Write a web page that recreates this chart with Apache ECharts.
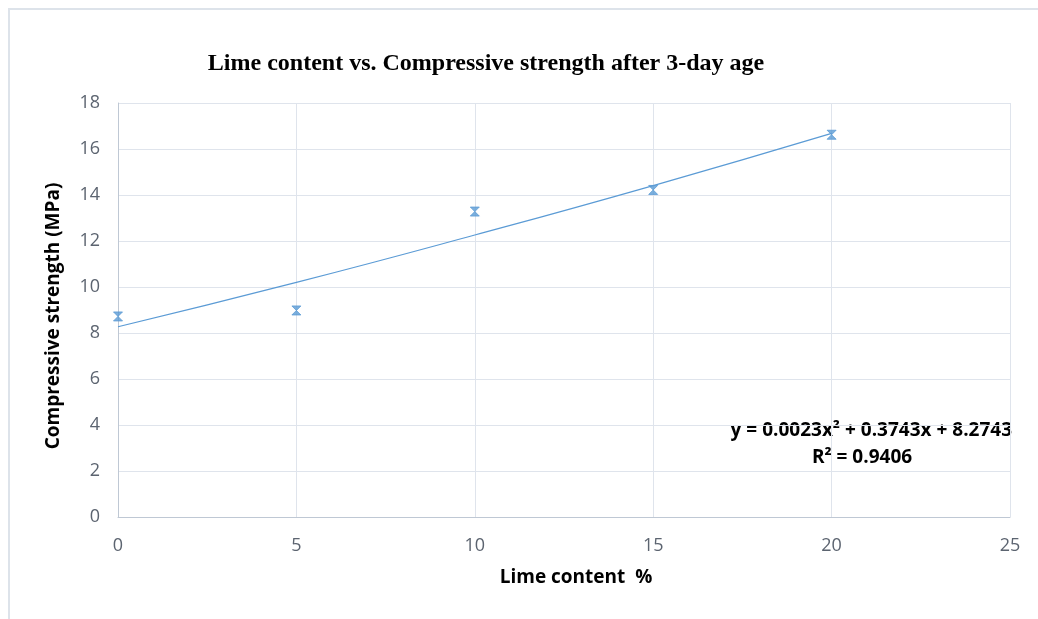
<!DOCTYPE html>
<html>
<head>
<meta charset="utf-8">
<script src="https://cdn.jsdelivr.net/npm/echarts@6/dist/echarts.min.js"></script>
<style>
html,body{margin:0;padding:0;background:#fff;}
#frame{position:absolute;left:8px;top:8px;width:1030px;height:611px;border-left:2px solid #dde3ea;border-top:2px solid #dde3ea;box-sizing:border-box;}
#chart{position:absolute;left:0;top:0;width:1038px;height:619px;}
</style>
</head>
<body>
<div id="frame"></div>
<div id="chart"></div>
<script>
const limeContent = [0, 5, 10, 15, 20];
const strength = [8.72, 8.98, 13.28, 14.22, 16.62];
// trendline
const trendX = [0, 5, 10, 15, 20];
const trendY = [8.27, 10.20, 12.26, 14.41, 16.68];
const xTicks = [0, 5, 10, 15, 20, 25];
const yTicks = [0, 2, 4, 6, 8, 10, 12, 14, 16, 18];
const equationText = 'y = 0.0023x² + 0.3743x + 8.2743';
const r2Text = 'R² = 0.9406';

const chart = echarts.init(document.getElementById('chart'));
const blue = '#5b9bd5';
chart.setOption({
  animation: false,
  title: {
    text: 'Lime content vs. Compressive strength after 3-day age',
    left: 481, top: 47, textAlign: 'center',
    textStyle: {fontFamily: 'Liberation Serif', fontWeight: 'bold', fontSize: 24, color: '#000'}
  },
  grid: {left: 118, right: 28, top: 103, bottom: 102, containLabel: false},
  xAxis: {
    type: 'value', min: 0, max: 25, interval: 5,
    name: 'Lime content  %', nameLocation: 'middle', nameGap: 51,
    nameTextStyle: {fontFamily: 'Open Sans', fontWeight: 'bold', fontSize: 19, color: '#000', padding: [0, 0, 0, 24]},
    axisLine: {show: true, lineStyle: {color: '#bfc8d4', width: 1}},
    axisTick: {show: false},
    axisLabel: {fontFamily: 'Open Sans', fontSize: 18, color: '#5c6470', margin: 20},
    splitLine: {show: true, lineStyle: {color: '#dfe4ec', width: 1}}
  },
  yAxis: {
    type: 'value', min: 0, max: 18, interval: 2,
    name: 'Compressive strength (MPa)', nameLocation: 'middle', nameGap: 55,
    nameTextStyle: {fontFamily: 'Open Sans', fontWeight: 'bold', fontSize: 19, color: '#000', padding: [0, 12, 0, 0]},
    axisLine: {show: true, lineStyle: {color: '#bfc8d4', width: 1}},
    axisTick: {show: false},
    axisLabel: {fontFamily: 'Open Sans', fontSize: 18, color: '#5c6470', margin: 18},
    splitLine: {show: true, lineStyle: {color: '#dfe4ec', width: 1}}
  },
  series: [
    {
      type: 'line', smooth: true, symbol: 'none',
      data: trendX.map((x, i) => [x, trendY[i]]),
      lineStyle: {color: blue, width: 1.2}, z: 2
    },
    {
      type: 'scatter',
      symbol: 'path://M0,0 L10,0 L0,10 L10,10 Z',
      symbolSize: [9, 9],
      data: limeContent.map((x, i) => [x, strength[i]]),
      itemStyle: {color: blue, borderColor: blue, borderWidth: 1}, z: 3
    }
  ],
  graphic: [
    {type: 'text', x: 1012, y: 431, style: {text: equationText, fontFamily: 'Open Sans', fontWeight: 'bold', fontSize: 19, fill: '#000', align: 'right', verticalAlign: 'middle'}},
    {type: 'text', x: 862, y: 458, style: {text: r2Text, fontFamily: 'Open Sans', fontWeight: 'bold', fontSize: 19, fill: '#000', align: 'center', verticalAlign: 'middle'}}
  ]
});
</script>
</body>
</html>
